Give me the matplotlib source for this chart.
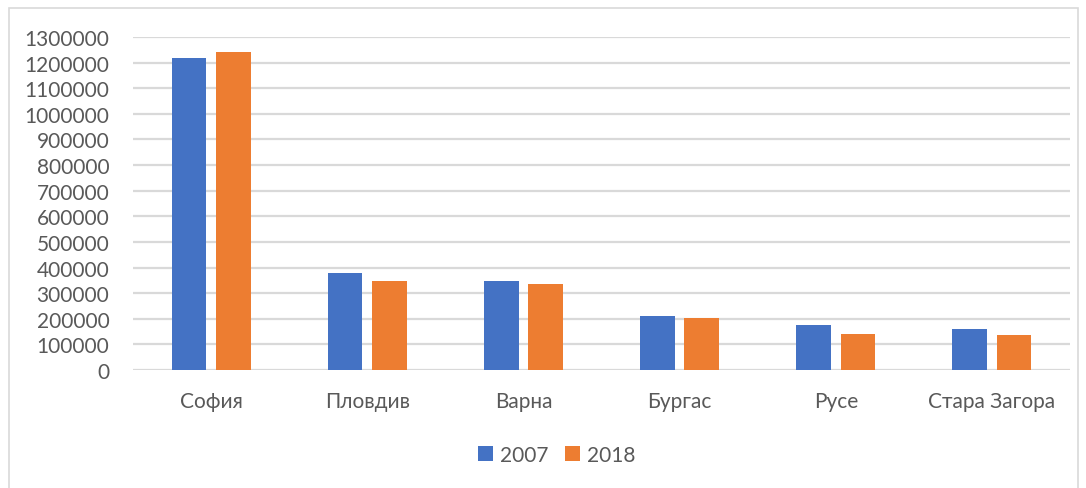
import matplotlib
matplotlib.use("Agg")
import matplotlib.pyplot as plt
import numpy as np
from matplotlib.patches import Rectangle

cities = ["София", "Пловдив", "Варна", "Бургас", "Русе", "Стара Загора"]
pop_2007 = [1217000, 378000, 349000, 212000, 174000, 160000]
pop_2018 = [1242000, 347000, 336000, 202000, 141000, 135000]
series_labels = ["2007", "2018"]
yticks = list(range(0, 1300001, 100000))

BLUE = "#4472C4"
ORANGE = "#ED7D31"
TEXT = "#595959"
GRID = "#D9D9D9"

plt.rcParams['font.family'] = ['Lato', 'DejaVu Sans']

W, H = 1086, 489
fig = plt.figure(figsize=(W/100, H/100), dpi=100)
fig.patch.set_facecolor("white")

ax = fig.add_axes([133/W, 1-371/H, (1070-133)/W, (371-38)/H])
x = np.arange(len(cities))
bw = 0.222
off = 0.142
ax.bar(x - off, pop_2007, bw, color=BLUE, label=series_labels[0], zorder=3)
ax.bar(x + off, pop_2018, bw, color=ORANGE, label=series_labels[1], zorder=3)

ax.set_xlim(-0.5, len(cities) - 0.5)
ax.set_ylim(0, 1300000)
ax.set_yticks(yticks)
ax.set_yticklabels([str(v) for v in yticks])
ax.set_xticks(x)
ax.set_xticklabels(cities)
ax.tick_params(axis='y', length=0, pad=17, labelsize=15, labelcolor=TEXT)
ax.tick_params(axis='x', length=0, pad=15, labelsize=15, labelcolor=TEXT)
ax.grid(axis='y', color=GRID, linewidth=1.6, zorder=0)
for s in ax.spines.values():
    s.set_visible(False)
ax.set_facecolor("white")

leg = fig.legend(loc='center', bbox_to_anchor=(557/W, 1-456/H), ncol=2, frameon=False,
                 fontsize=15, labelcolor=TEXT, handlelength=0.7, handleheight=0.7,
                 handletextpad=0.35, columnspacing=0.8)

fig.patches.append(Rectangle((8.5/W, -0.1), (1077.5-8.5)/W, 1.1 - 8.5/H,
                             transform=fig.transFigure, fill=False,
                             edgecolor="#D9D9D9", linewidth=1.2))

fig.savefig("out.png", dpi=100)
